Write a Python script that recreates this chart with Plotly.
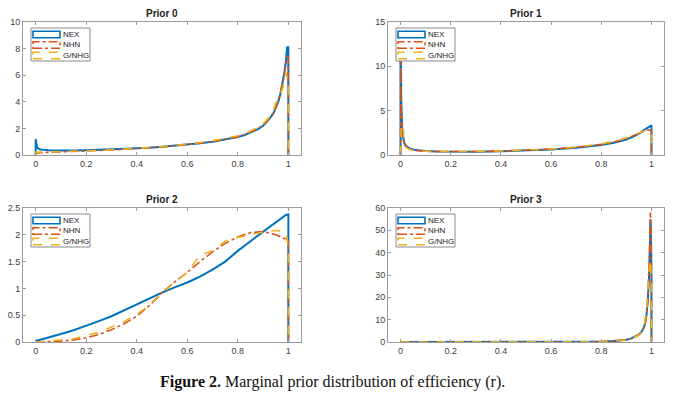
import plotly.graph_objects as go

SERIES = ["NEX", "NHN", "G/NHG"]
TITLES = ["Prior 0", "Prior 1", "Prior 2", "Prior 3"]
X_TICKS = [0, 0.2, 0.4, 0.6, 0.8, 1]
X_TICK_TEXT = ["0", "0.2", "0.4", "0.6", "0.8", "1"]
Y_TICKS = [[0, 2, 4, 6, 8, 10], [0, 5, 10, 15], [0, 0.5, 1, 1.5, 2, 2.5], [0, 10, 20, 30, 40, 50, 60]]
Y_RANGES = [[0, 10], [0, 15], [0, 2.5], [0, 60]]

P0_X = [0, 0, 0.005, 0.01, 0.02, 0.03, 0.05, 0.08, 0.1, 0.15, 0.2, 0.25, 0.3, 0.35, 0.4, 0.45, 0.5,
        0.55, 0.6, 0.65, 0.7, 0.75, 0.8, 0.83, 0.86, 0.88, 0.9, 0.92, 0.94, 0.95, 0.96, 0.97, 0.98,
        0.985, 0.99, 0.995, 1.0, 1.0]
P0_NEX = [0, 1.2, 0.62, 0.48, 0.42, 0.38, 0.35, 0.34, 0.33, 0.34, 0.36, 0.39, 0.42, 0.46, 0.5, 0.55,
          0.62, 0.69, 0.78, 0.88, 1.0, 1.15, 1.35, 1.52, 1.75, 1.95, 2.2, 2.6, 3.1, 3.5, 4.0, 4.7,
          5.6, 6.3, 7.0, 8.1, 8.1, 0]
P0_NHN = [0, 0.15, 0.16, 0.17, 0.18, 0.19, 0.2, 0.22, 0.23, 0.26, 0.3, 0.34, 0.38, 0.43, 0.48, 0.54,
          0.61, 0.69, 0.78, 0.89, 1.02, 1.18, 1.38, 1.55, 1.8, 2.0, 2.25, 2.65, 3.15, 3.55, 4.1, 4.8,
          5.6, 6.2, 6.8, 7.4, 7.4, 0]
P0_GNHG = [0, 0.2, 0.2, 0.21, 0.22, 0.22, 0.23, 0.24, 0.25, 0.27, 0.31, 0.35, 0.39, 0.44, 0.49, 0.56,
           0.63, 0.72, 0.82, 0.94, 1.08, 1.25, 1.45, 1.62, 1.9, 2.1, 2.35, 2.75, 3.3, 3.9, 4.3, 4.6,
           5.2, 5.8, 6.2, 5.8, 5.8, 0]

P1_X = [0, 0, 0.003, 0.006, 0.01, 0.015, 0.02, 0.03, 0.04, 0.06, 0.08, 0.1, 0.15, 0.2, 0.3, 0.4,
        0.5, 0.6, 0.7, 0.75, 0.8, 0.85, 0.9, 0.93, 0.95, 0.97, 0.98, 0.99, 0.995, 1.0, 1.0]
P1_NEX = [0, 14.3, 6.0, 3.2, 2.0, 1.4, 1.1, 0.85, 0.7, 0.55, 0.48, 0.44, 0.4, 0.38, 0.38, 0.42,
          0.5, 0.62, 0.82, 0.95, 1.12, 1.38, 1.75, 2.1, 2.4, 2.8, 3.0, 3.25, 3.35, 3.35, 0]
P1_NHN = [0, 11.0, 5.0, 2.8, 1.8, 1.3, 1.0, 0.8, 0.65, 0.52, 0.46, 0.42, 0.39, 0.38, 0.39, 0.44,
          0.53, 0.66, 0.87, 1.0, 1.2, 1.47, 1.85, 2.2, 2.45, 2.7, 2.8, 2.8, 2.75, 2.75, 0]
P1_GNHG = [0, 1.5, 3.4, 3.4, 3.4, 1.2, 0.9, 0.7, 0.6, 0.5, 0.45, 0.42, 0.39, 0.38, 0.4, 0.45,
           0.55, 0.68, 0.9, 1.05, 1.25, 1.55, 1.95, 2.3, 2.5, 2.75, 2.8, 2.65, 2.5, 2.5, 0]

P2_X = [0, 0.05, 0.1, 0.15, 0.2, 0.25, 0.3, 0.35, 0.4, 0.45, 0.5, 0.55, 0.6, 0.65, 0.7, 0.75, 0.8,
        0.85, 0.9, 0.95, 0.99, 1.0, 1.0]
P2_NEX = [0.02, 0.08, 0.15, 0.22, 0.3, 0.39, 0.48, 0.59, 0.7, 0.82, 0.92, 1.02, 1.11, 1.22, 1.35, 1.5,
          1.7, 1.88, 2.05, 2.22, 2.37, 2.38, 0]
P2_NHN = [0, 0.005, 0.015, 0.04, 0.08, 0.14, 0.23, 0.34, 0.48, 0.68, 0.92, 1.12, 1.3, 1.5, 1.68,
          1.84, 1.96, 2.04, 2.06, 2.0, 1.92, 1.9, 0]
P2_GNHG = [0, 0.02, 0.04, 0.06, 0.12, 0.18, 0.28, 0.38, 0.52, 0.68, 0.9, 1.12, 1.3, 1.62, 1.7, 1.88,
           1.95, 2.0, 2.05, 2.08, 2.05, 1.75, 0]

P3_X = [0, 0.2, 0.4, 0.6, 0.7, 0.8, 0.85, 0.88, 0.9, 0.92, 0.94, 0.95, 0.96, 0.97, 0.975, 0.98,
        0.985, 0.99, 0.993, 0.996, 0.998, 1.0, 1.0]
P3_NEX = [0, 0, 0, 0.02, 0.05, 0.15, 0.4, 0.7, 1.0, 1.6, 2.5, 3.3, 4.5, 6.5, 8.5, 12, 18, 28, 40,
          55, 50, 30, 0]
P3_NHN = [0, 0, 0, 0.02, 0.05, 0.15, 0.4, 0.7, 1.0, 1.6, 2.5, 3.3, 4.5, 6.5, 8.5, 12, 18, 29, 42,
          58, 52, 30, 0]
P3_GNHG = [0, 0, 0, 0.02, 0.05, 0.15, 0.4, 0.7, 1.0, 1.5, 2.3, 3.0, 4.2, 6.0, 11, 11, 22, 34, 36,
           37, 30, 28, 0]

PRIORS = [
    (P0_X, [P0_NEX, P0_NHN, P0_GNHG]),
    (P1_X, [P1_NEX, P1_NHN, P1_GNHG]),
    (P2_X, [P2_NEX, P2_NHN, P2_GNHG]),
    (P3_X, [P3_NEX, P3_NHN, P3_GNHG]),
]

COLORS = ["#0072BD", "#D95319", "#EDB120"]
DASHES = ["solid", "dashdot", "dash"]
WIDTHS = [2.0, 1.6, 1.6]

W, H = 680, 404
# axes boxes in pixels: left, right, top, bottom
BOXES = [(23, 301, 22, 155), (388, 664, 22, 155), (23, 301, 208, 342), (388, 664, 208, 342)]
X_RANGE = [-0.05, 1.05]

AX = "#9c9c9c"
SANS = "Liberation Sans, Arial, sans-serif"
TICKFONT = dict(family=SANS, size=9, color="#404040")

fig = go.Figure()
shapes = []
annotations = []

for i, (xs, ys_list) in enumerate(PRIORS):
    n = "" if i == 0 else str(i + 1)
    l, r, t, b = BOXES[i]
    xd = [l / W, r / W]
    yd = [1 - b / H, 1 - t / H]
    for j, ys in enumerate(ys_list):
        fig.add_trace(go.Scatter(
            x=xs, y=ys, mode="lines", name=SERIES[j], showlegend=False,
            line=dict(color=COLORS[j], dash=DASHES[j], width=WIDTHS[j]),
            xaxis="x" + n, yaxis="y" + n,
        ))
    fig.update_layout(**{
        "xaxis" + n: dict(domain=xd, range=X_RANGE, anchor="y" + n, automargin=False,
                          tickvals=X_TICKS, ticktext=X_TICK_TEXT, ticks="inside", ticklen=3,
                          tickcolor=AX, showline=True, linecolor=AX, linewidth=1, mirror="ticks",
                          showgrid=False, zeroline=False, tickfont=TICKFONT),
        "yaxis" + n: dict(domain=yd, range=Y_RANGES[i], anchor="x" + n, automargin=False,
                          tickvals=Y_TICKS[i], ticks="inside", ticklen=3,
                          tickcolor=AX, showline=True, linecolor=AX, linewidth=1, mirror="ticks",
                          showgrid=False, zeroline=False, tickfont=TICKFONT),
    })
    annotations.append(dict(text="<b>" + TITLES[i] + "</b>", xref="paper", yref="paper",
                            x=(xd[0] + xd[1]) / 2, y=yd[1], xanchor="center", yanchor="bottom",
                            showarrow=False, yshift=1,
                            font=dict(family=SANS, size=10, color="#222")))

    # legend box (MATLAB style) drawn in paper coordinates
    bl, bt = l + 8, t + 6
    br, bb = bl + 59, bt + 33
    shapes.append(dict(type="rect", xref="paper", yref="paper",
                       x0=bl / W, x1=br / W, y0=1 - bb / H, y1=1 - bt / H,
                       line=dict(color="#8a8a8a", width=1), fillcolor="white", layer="above"))
    for j, name in enumerate(SERIES):
        cy = bt + 6.5 + j * 10.5
        shapes.append(dict(type="rect", xref="paper", yref="paper",
                           x0=(bl + 2) / W, x1=(bl + 29) / W,
                           y0=1 - (cy + 3.3) / H, y1=1 - (cy - 3.3) / H,
                           line=dict(color=COLORS[j], dash=DASHES[j], width=1.6),
                           fillcolor="rgba(0,0,0,0)", layer="above"))
        annotations.append(dict(text=name, xref="paper", yref="paper",
                                x=(bl + 29.5) / W, y=1 - cy / H, xanchor="left",
                                yanchor="middle", showarrow=False,
                                font=dict(family=SANS, size=8, color="#222")))

annotations.append(dict(text="<b>Figure 2.</b> Marginal prior distribution of efficiency (r).",
                        xref="paper", yref="paper", x=332 / W, y=1 - 382 / H, xanchor="center",
                        yanchor="middle", showarrow=False,
                        font=dict(family="Liberation Serif, Times New Roman, serif", size=16,
                                  color="#111")))

fig.update_layout(width=W, height=H, margin=dict(l=0, r=0, t=0, b=0, autoexpand=False),
                  paper_bgcolor="white", plot_bgcolor="white", showlegend=False,
                  shapes=shapes, annotations=annotations)

fig.write_html("out.html", config={"displayModeBar": False},
               post_script="document.body.style.margin='0';document.body.style.padding='0';")
